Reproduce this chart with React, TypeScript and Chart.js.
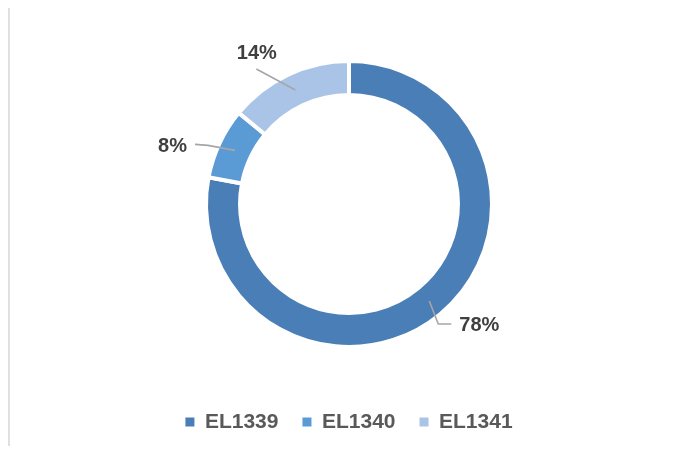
import React, { useEffect, useRef } from 'react';
import { Chart, registerables } from 'chart.js';

Chart.register(...registerables);

const categories = ['EL1339', 'EL1340', 'EL1341'];
const shares = [78, 8, 14];
const sliceColors = ['#4A7EB6', '#5B9BD5', '#A9C4E6'];

// leader-line geometry, relative to each slice's mid-ring anchor point
const leaderLayout = [
  { bend: [9, 23], end: [22, 23], text: [8, 1], align: 'left' },
  { bend: [-27, -5], end: [-40, -6], text: [-8, 2], align: 'right' },
  { bend: [-39, -21], end: [-39, -21], text: [0.5, -16], align: 'center' },
];

const FONT = "'Liberation Sans', Arial, sans-serif";

const leaderPlugin = {
  id: 'leaderLabels',
  afterDatasetsDraw(chart: any) {
    const ctx = chart.ctx as CanvasRenderingContext2D;
    const meta = chart.getDatasetMeta(0);
    const data = chart.data.datasets[0].data as number[];
    meta.data.forEach((arc: any, i: number) => {
      const p = arc.getProps(['x', 'y', 'startAngle', 'endAngle', 'innerRadius', 'outerRadius'], true);
      const mid = (p.startAngle + p.endAngle) / 2;
      const r = (p.innerRadius + p.outerRadius) / 2;
      const ax = p.x + Math.cos(mid) * r;
      const ay = p.y + Math.sin(mid) * r;
      const L = leaderLayout[i];
      const bx = ax + L.bend[0], by = ay + L.bend[1];
      const ex = ax + L.end[0], ey = ay + L.end[1];
      ctx.save();
      ctx.strokeStyle = '#a6a6a6';
      ctx.lineWidth = 1.6;
      ctx.beginPath();
      ctx.moveTo(ax, ay);
      ctx.lineTo(bx, by);
      ctx.lineTo(ex, ey);
      ctx.stroke();
      ctx.fillStyle = '#404040';
      ctx.font = `bold 20px ${FONT}`;
      ctx.textAlign = L.align as CanvasTextAlign;
      ctx.textBaseline = 'middle';
      ctx.fillText(`${data[i]}%`, ex + L.text[0], ey + L.text[1]);
      ctx.restore();
    });
  },
};

export default function App() {
  const ref = useRef<HTMLCanvasElement | null>(null);

  useEffect(() => {
    document.documentElement.style.overflow = 'hidden';
    if (!ref.current) return;
    const chart = new Chart(ref.current, {
      type: 'doughnut',
      data: {
        labels: categories,
        datasets: [
          {
            data: shares,
            backgroundColor: sliceColors,
            borderColor: '#ffffff',
            borderWidth: 4,
            radius: 143,
            cutout: '76.2%',
          } as any,
        ],
      },
      options: {
        responsive: false,
        animation: false,
        layout: { padding: { top: 12.5, bottom: 8.5, left: 12, right: 0 } },
        plugins: {
          tooltip: { enabled: false },
          title: { display: false },
          legend: {
            position: 'bottom',
            maxHeight: 50,
            labels: {
              boxWidth: 9,
              boxHeight: 9,
              padding: 24,
              color: '#595959',
              font: { family: FONT, size: 21, weight: 'bold' },
              generateLabels: (chart: any) =>
                Chart.overrides.doughnut.plugins.legend.labels
                  .generateLabels(chart)
                  .map((item: any) => ({ ...item, lineWidth: 0, strokeStyle: 'rgba(0,0,0,0)' })),
            },
          },
        },
      } as any,
      plugins: [leaderPlugin],
    });
    return () => chart.destroy();
  }, []);

  return (
    <div
      style={{
        marginTop: -1,
        borderTop: '1px solid #d9d9d9',
        borderLeft: '2px solid #e0e0e0',
        width: 666,
        height: 438,
      }}
    >
      <canvas ref={ref} width={666} height={438} style={{ display: 'block' }} />
    </div>
  );
}
